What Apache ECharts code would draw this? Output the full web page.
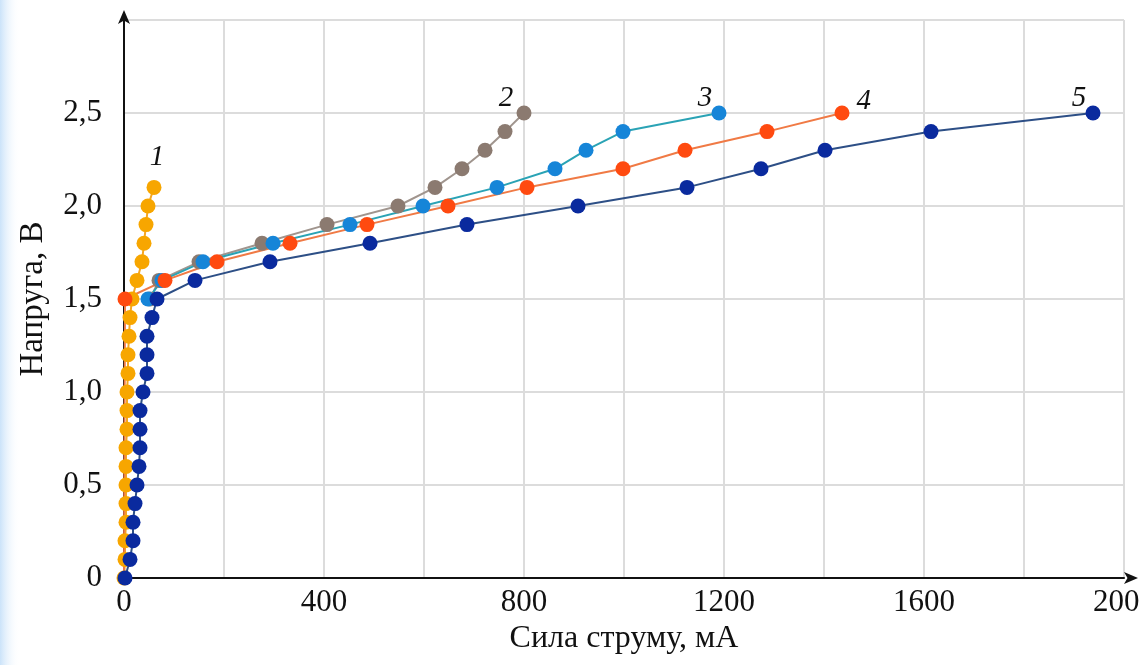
<!DOCTYPE html>
<html>
<head>
<meta charset="utf-8">
<script src="https://cdn.jsdelivr.net/npm/echarts@6/dist/echarts.min.js"></script>
<style>
html,body{margin:0;padding:0;background:#fff;}
#chart{width:1140px;height:665px;}
</style>
</head>
<body>
<div id="chart"></div>
<script>
// ---- data (current in mA, voltage in V) ----
const v1 = [0,0.1,0.2,0.3,0.4,0.5,0.6,0.7,0.8,0.9,1.0,1.1,1.2,1.3,1.4,1.5,1.6,1.7,1.8,1.9,2.0,2.1];
const i1 = [0,2,2,4,4,4,4,4,6,6,6,8,8,10,12,16,26,36,40,44,48,60];

const v2 = [1.5,1.6,1.7,1.8,1.9,2.0,2.1,2.2,2.3,2.4,2.5];
const i2 = [52,70,150,276,406,548,622,676,722,762,800];

const v3 = [1.5,1.6,1.7,1.8,1.9,2.0,2.1,2.2,2.3,2.4,2.5];
const i3 = [48,76,158,298,452,598,746,862,924,998,1190];

const v4 = [0,1.5,1.6,1.7,1.8,1.9,2.0,2.1,2.2,2.3,2.4,2.5];
const i4 = [0,2,82,186,332,486,648,806,998,1122,1286,1436];

const v5 = [0,0.1,0.2,0.3,0.4,0.5,0.6,0.7,0.8,0.9,1.0,1.1,1.2,1.3,1.4,1.5,1.6,1.7,1.8,1.9,2.0,2.1,2.2,2.3,2.4,2.5];
const i5 = [2,12,18,18,22,26,30,32,32,32,38,46,46,46,56,66,142,292,492,686,908,1126,1274,1402,1614,1938];

const curveNames = ['1','2','3','4','5'];
const xTicks = [0,400,800,1200,1600,2000];
const yTicks = [0,0.5,1.0,1.5,2.0,2.5];

const FONT = '"Liberation Serif", "Times New Roman", serif';

function build(iv, vv, hideFirst, labelOpt){
  return iv.map((x, k) => {
    const item = { value: [x, vv[k]] };
    if (hideFirst && k === 0) item.symbol = 'none';
    if (k === iv.length - 1) item.label = Object.assign({
      show: true, formatter: '{a}', fontFamily: FONT, fontStyle: 'italic',
      fontSize: 29, color: '#111'
    }, labelOpt);
    return item;
  });
}

function series(name, data, dot, line, size){
  return {
    name: name, type: 'line', data: data,
    symbol: 'circle', symbolSize: size,
    itemStyle: { color: dot },
    lineStyle: { color: line, width: 2 },
    emphasis: { disabled: true },
    animation: false
  };
}

const chart = echarts.init(document.getElementById('chart'), null, {renderer: 'canvas'});
chart.setOption({
  backgroundColor: '#fff',
  animation: false,
  graphic: [{
    type: 'rect', left: 0, top: 0, z: -10,
    shape: { width: 20, height: 665 },
    style: { fill: new echarts.graphic.LinearGradient(0,0,1,0,[
      {offset:0, color:'rgba(190,220,248,0.8)'},
      {offset:1, color:'rgba(255,255,255,0)'}]) }
  }],
  grid: { left: 124, right: 16, top: 20, bottom: 87, containLabel: false, outerBoundsMode: 'none' },
  xAxis: {
    type: 'value', min: 0, max: 2000, interval: 200,
    name: 'Сила струму, мА', nameLocation: 'middle', nameGap: 44,
    nameTextStyle: { fontFamily: FONT, fontSize: 32, color: '#111' },
    axisLine: { show: true, lineStyle: { color: '#111', width: 2 },
      symbol: ['none','arrow'], symbolSize: [9,14], symbolOffset: [0, 14] },
    axisTick: { show: false },
    axisLabel: { fontFamily: FONT, fontSize: 31, color: '#111', margin: 9,
      formatter: v => xTicks.indexOf(v) >= 0 ? String(v) : '' },
    splitLine: { show: true, lineStyle: { color: '#dcdcdc', width: 2 } }
  },
  yAxis: {
    type: 'value', min: 0, max: 3.0, interval: 0.5,
    name: 'Напруга, В', nameLocation: 'middle', nameGap: 74, nameRotate: 90,
    nameTextStyle: { fontFamily: FONT, fontSize: 33, color: '#111' },
    axisLine: { show: true, lineStyle: { color: '#111', width: 2 },
      symbol: ['none','arrow'], symbolSize: [9,14], symbolOffset: [0, 10] },
    axisTick: { show: false },
    axisLabel: { fontFamily: FONT, fontSize: 31, color: '#111', margin: 22,
      formatter: v => {
        const t = yTicks.find(y => Math.abs(y - v) < 1e-6);
        if (t === undefined) return '';
        return t === 0 ? '0' : t.toFixed(1).replace('.', ',');
      } },
    splitLine: { show: true, lineStyle: { color: '#dcdcdc', width: 2 } }
  },
  series: [
    series(curveNames[0], build(i1, v1, false, {position:'top', distance: 8, offset:[3,0]}), '#f7a600', '#f5a623', 15),
    series(curveNames[1], build(i2, v2, false, {position:'top', offset:[-18,12]}), '#8b7a70', '#a0958e', 15),
    series(curveNames[2], build(i3, v3, false, {position:'top', offset:[-14,12]}), '#1685d8', '#2aa3b5', 15),
    series(curveNames[3], build(i4, v4, true, {position:'right', offset:[2,-12]}), '#ff4a10', '#f07a45', 15),
    series(curveNames[4], build(i5, v5, false, {position:'top', offset:[-14,12]}), '#0a2a9e', '#2d4f86', 15)
  ]
});
</script>
</body>
</html>
